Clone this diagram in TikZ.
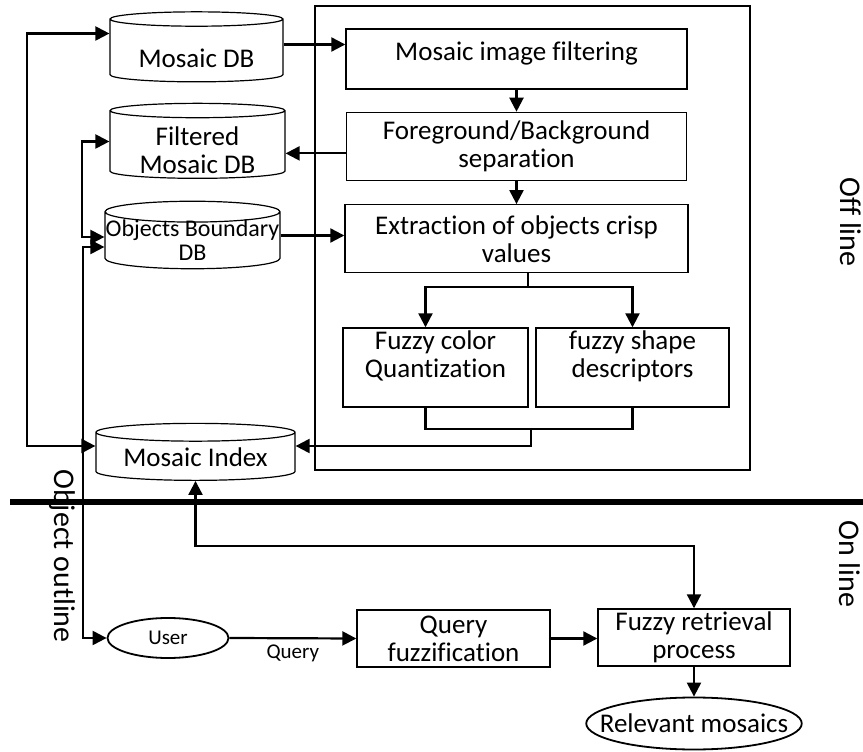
\documentclass[tikz,border=0pt]{standalone}
\usepackage{fontspec}
\setmainfont{Carlito}[Ligatures=NoCommon]
\usepackage{tikz}
\usetikzlibrary{shapes.geometric, positioning, arrows.meta}

\begin{document}
\begin{tikzpicture}[
    x = 0.5pt, y = 0.5pt,
    font = \fontsize{13.5}{14}\selectfont,
    node distance = 11pt,
    >={Triangle[length=7pt, width=7pt]},
    box/.style = {draw, rectangle, line width=0.7pt, align=center, inner sep=0.5pt},
    db/.style = {draw, cylinder, shape border rotate=90, aspect=0.12,
        line width=0.6pt, align=center, inner sep=1pt},
    oval/.style = {draw, ellipse, line width=0.9pt, inner sep=0pt},
    frame/.style = {draw, rectangle, line width=1.2pt},
    link/.style = {line width=1.1pt},
    side/.style = {font=\fontsize{15}{16}\selectfont, rotate=-90}
  ]
    \useasboundingbox (0,0) rectangle (863,751);

    % off line part
    \node[frame, minimum width=217.5pt, minimum height=232pt] (offbox) at (532.5,513) {};
    \node[box, minimum width=170.5pt, minimum height=30pt] (filt) at (516.5,692) {Mosaic image filtering\\[-6pt]\mbox{}};
    \node[box, minimum width=170pt, minimum height=34pt, below=11pt of filt] (fg) {Foreground/Background\\separation};
    \node[box, minimum width=171.5pt, minimum height=34pt, below=11.5pt of fg] (ext) {Extraction of objects crisp\\values};
    \node[box, minimum width=92.5pt, minimum height=39.5pt] (fcq) at (435.5,383.5) {Fuzzy color\\Quantization\\[-1pt]\mbox{}};
    \node[box, minimum width=96.5pt, minimum height=39.5pt] (fsd) at (632.5,383.5) {fuzzy shape\\descriptors\\[-1pt]\mbox{}};

    % databases
    \node[db, minimum width=86.5pt, minimum height=35pt] (mdb) at (196.5,699.5) {\mbox{}\\[1.9pt]Mosaic DB};
    \node[db, minimum width=87.5pt, minimum height=37.5pt, inner ysep=-2pt] (fdb) at (197.5,605.5) {\mbox{}\\[-0.1pt]Filtered\\Mosaic DB};
    \node[db, minimum width=87.5pt, minimum height=31.5pt, inner xsep=0pt, inner ysep=-1.25pt,
        font=\fontsize{12}{12}\selectfont] (odb) at (192.5,510.5) {Objects Boundary\\DB};
    \node[db, minimum width=99.5pt, minimum height=28.5pt] (midx) at (195.5,293.5) {Mosaic Index};

    % on line part
    \node[oval, minimum width=60.5pt, minimum height=20pt,
        font=\fontsize{10.5}{11}\selectfont] (user) at (168,113) {User};
    \node[box, minimum width=96.5pt, minimum height=28.5pt] (qf) at (453.5,112.5) {Query\\fuzzification};
    \node[box, minimum width=96pt, minimum height=28.5pt] (frp) at (694,113.5) {Fuzzy retrieval\\process};
    \node[oval, minimum width=107.5pt, minimum height=26pt, inner xsep=-9pt] (rel) at (694,27.5) {Relevant mosaics};

    % labels
    \node[side] (offl) at (851,529) {Off line};
    \node[side] (onl) at (850,187) {On line};
    \node[side] (objl) at (62,195) {Object outline};

    % bends of the connectors
    \coordinate (outer) at (27,400);
    \coordinate (inner) at (82,560);
    \coordinate (outline) at (83,300);
    \coordinate (split) at (528,464);
    \coordinate (merge) at (531,322);
    \coordinate (bus) at (694,205);

    % off line / on line divider
    \draw[line width=3pt] (10,249) -- (863,249);

    % connectors
    \draw[link, <->] ([yshift=9pt]mdb.west) -| (outer) |- ([yshift=5.75pt]midx.west);
    \draw[link, <->] ([yshift=2pt]fdb.west) -| (inner) |- ([yshift=1.75pt]odb.west);
    \draw[link, <->] ([yshift=-3.25pt]odb.west) -| (outline) |- (user.west);
    \draw[link, ->] ([yshift=3.5pt]mdb.east) -- ([yshift=3.5pt]mdb.east -| filt.west);
    \draw[link, ->] ([yshift=-3.5pt]fg.west) -- ([yshift=-3.5pt]fg.west -| fdb.east);
    \draw[link, ->] ([yshift=2.5pt]odb.east) -- ([yshift=2.5pt]odb.east -| ext.west);
    \draw[link, ->] (filt.south) -- (filt.south |- fg.north);
    \draw[link, ->] (fg.south) -- (fg.south |- ext.north);
    \draw[link] (split |- ext.south) -- (split);
    \draw[link, ->] (split) -| ([xshift=-5pt]fcq.north);
    \draw[link, ->] (split) -| (fsd.north);
    \draw[link] ([xshift=-5pt]fcq.south) |- (merge) -| (fsd.south);
    \draw[link, ->] (merge) |- ([yshift=5.75pt]midx.east);
    \draw[link, <->] (midx.south) |- (bus) -- (frp.north);
    \draw[link, ->] (user.east) -- node[below=2pt, inner sep=1pt,
        font=\fontsize{10.5}{11}\selectfont] (qlabel) {Query} (qf.west);
    \draw[link, ->] (qf.east) -- (qf.east -| frp.west);
    \draw[link, ->] (frp.south) -- (rel.north);
\end{tikzpicture}
\end{document}
